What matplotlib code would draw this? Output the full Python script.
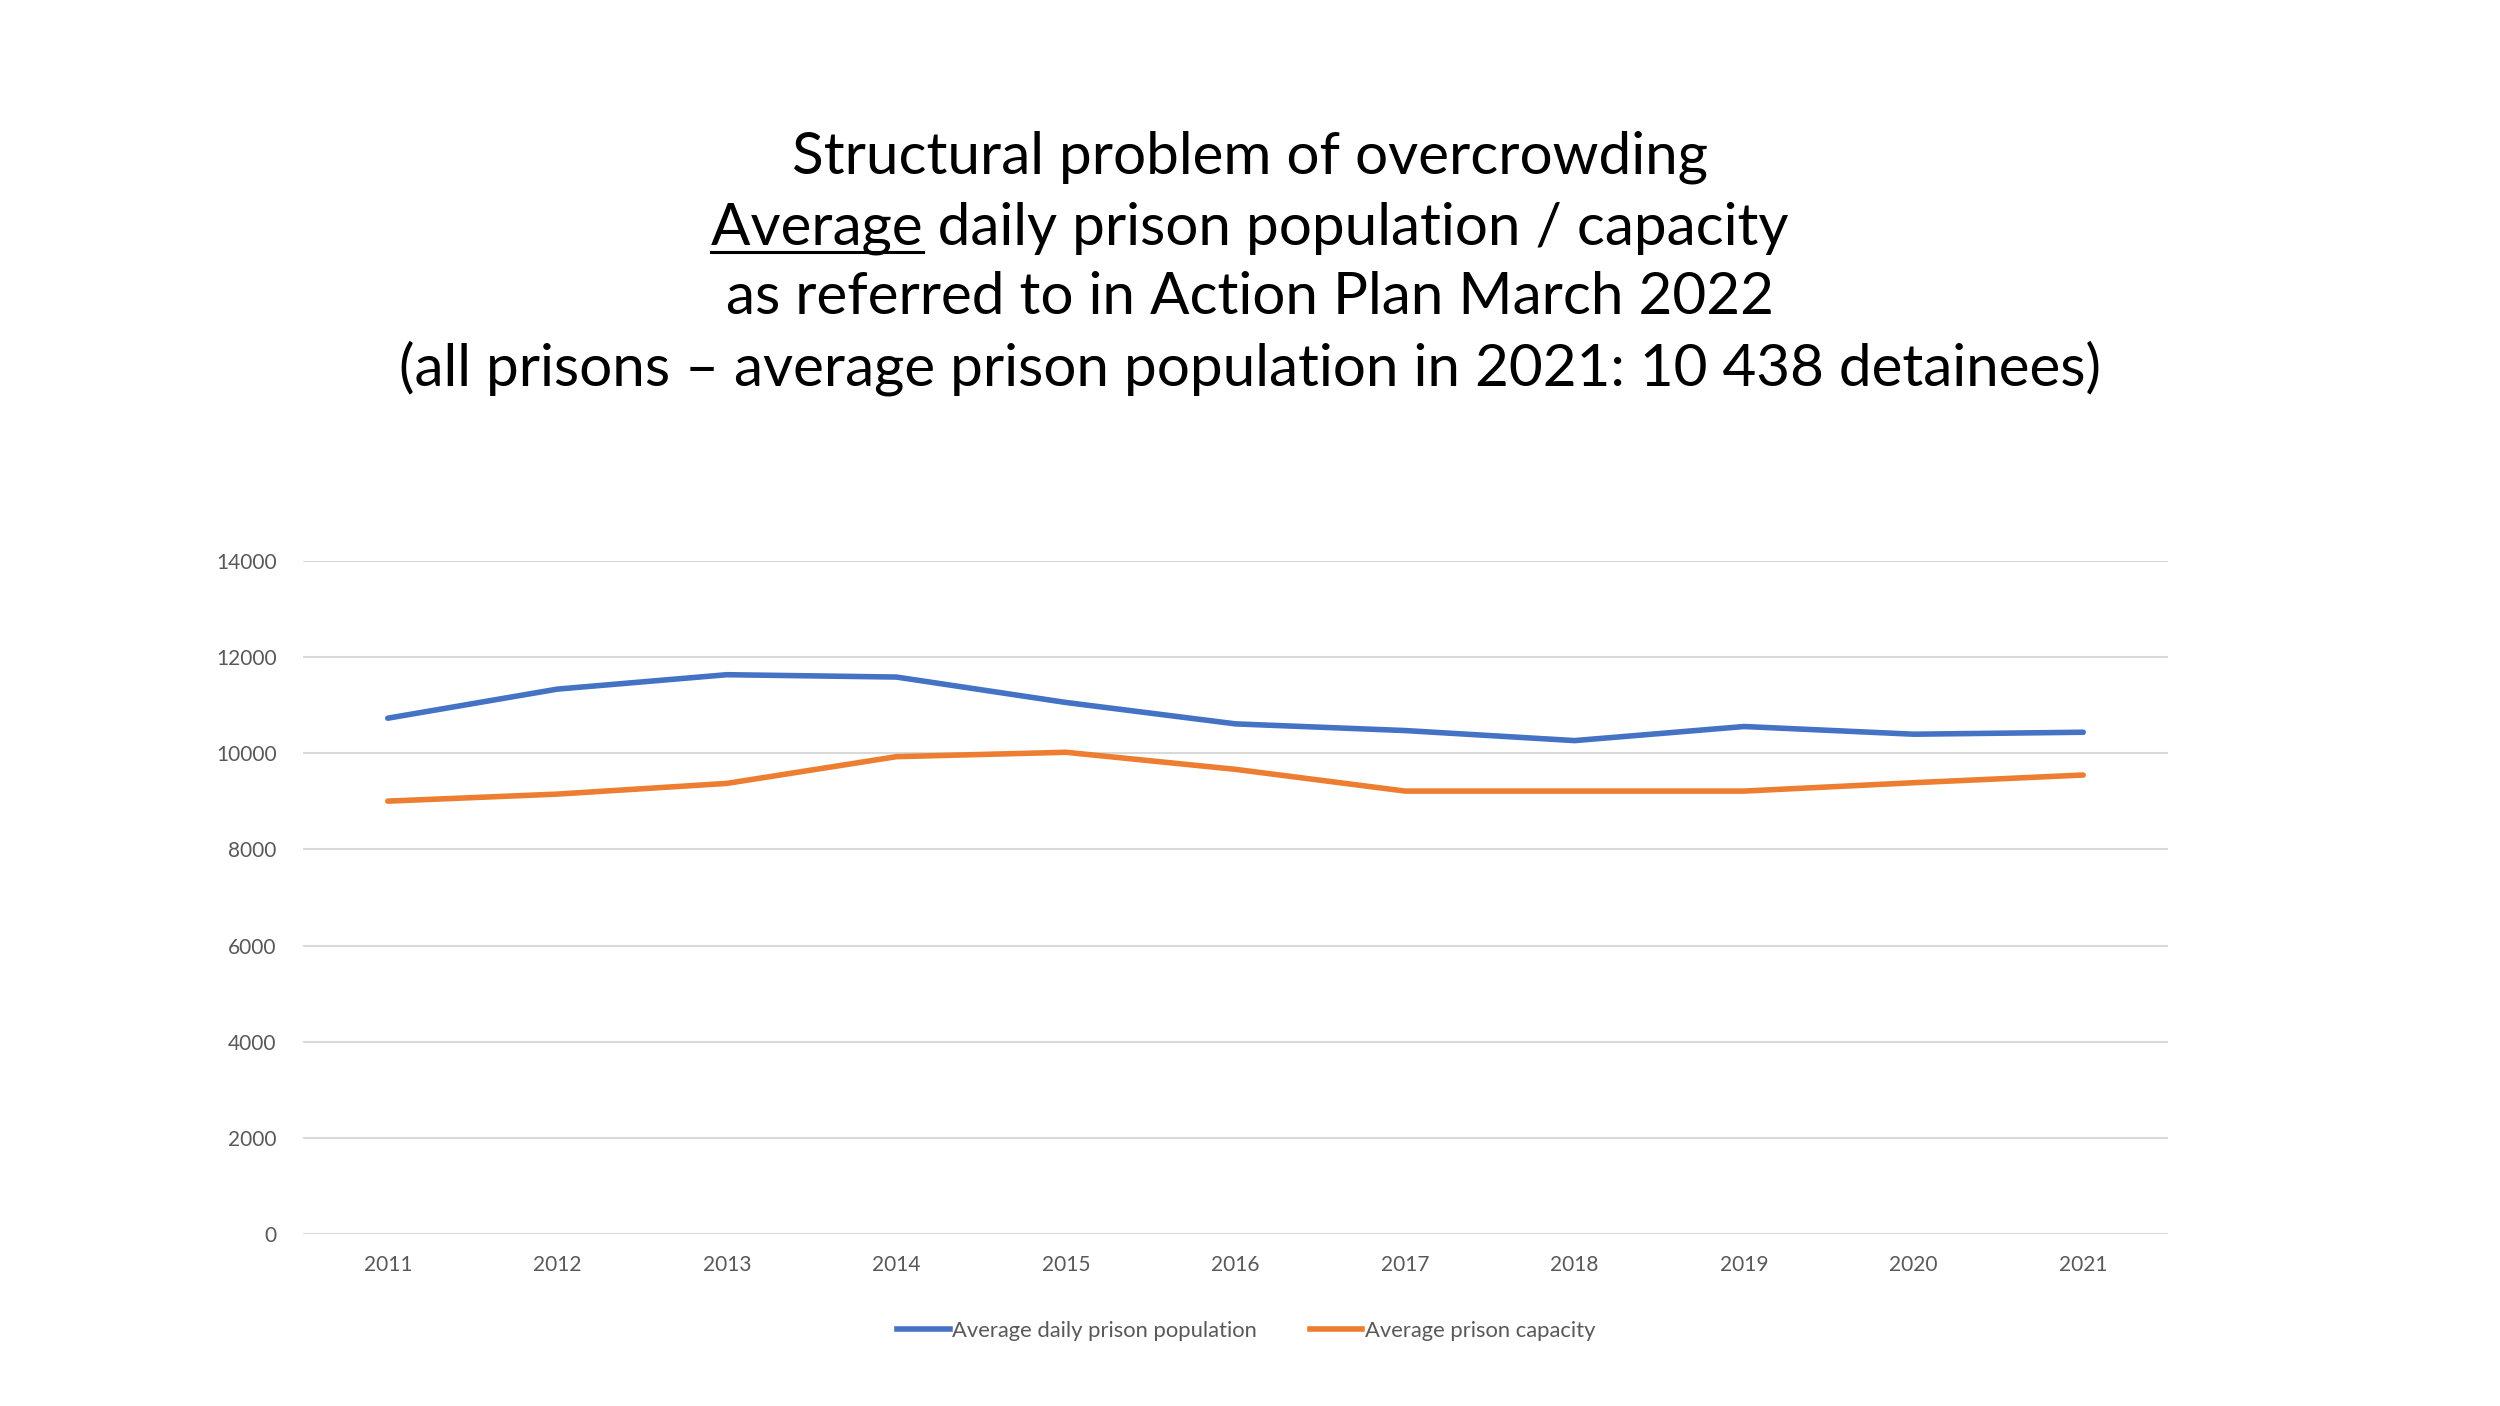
import matplotlib
matplotlib.use("Agg")
import matplotlib.pyplot as plt
from matplotlib.lines import Line2D

years = ["2011", "2012", "2013", "2014", "2015", "2016", "2017", "2018", "2019", "2020", "2021"]
population = [10730, 11335, 11635, 11586, 11057, 10612, 10473, 10264, 10557, 10397, 10438]
capacity = [9005, 9151, 9374, 9930, 10021, 9666, 9214, 9214, 9214, 9388, 9548]
yticks = [0, 2000, 4000, 6000, 8000, 10000, 12000, 14000]

title_lines = [
    "Structural problem of overcrowding",
    "Average daily prison population / capacity",
    "as referred to in Action Plan March 2022",
    "(all prisons \u2013 average prison population in 2021: 10 438 detainees)",
]

FONT = ["Lato", "DejaVu Sans"]
plt.rcParams["font.family"] = FONT

fig = plt.figure(figsize=(25, 14.06), dpi=100)
ax = fig.add_axes([0.1212, 0.1223, 0.746, 0.4787])

x = list(range(len(years)))
ax.plot(x, population, color="#4472C4", lw=4.0, solid_capstyle="round", solid_joinstyle="round",
        label="Average daily prison population")
ax.plot(x, capacity, color="#ED7D31", lw=4.0, solid_capstyle="round", solid_joinstyle="round",
        label="Average prison capacity")

ax.set_xlim(-0.5, len(years) - 0.5)
ax.set_ylim(0, 14000)
ax.set_yticks(yticks)
ax.set_yticklabels([str(v) for v in yticks])
ax.set_xticks(x)
ax.set_xticklabels(years)
ax.grid(axis="y", color="#D9D9D9", lw=1.5)
ax.set_axisbelow(True)
for s in ax.spines.values():
    s.set_visible(False)
ax.tick_params(axis="both", length=0, labelsize=15, colors="#595959")
ax.tick_params(axis="y", pad=19)
ax.tick_params(axis="x", pad=15)

leg = fig.legend(handles=[Line2D([], [], color="#4472C4", lw=4.0),
                          Line2D([], [], color="#ED7D31", lw=4.0)],
                 labels=["Average daily prison population", "Average prison capacity"],
                 loc="center", bbox_to_anchor=(0.4985, 1 - 1331 / 1406), ncol=2, frameon=False,
                 fontsize=15.8, handlelength=2.4, handletextpad=0.1, columnspacing=2.4)
for t in leg.get_texts():
    t.set_color("#595959")

ys = [157, 228, 298, 368]
texts = []
for line, yp in zip(title_lines, ys):
    t = fig.text(0.5, 1 - yp / 1406, line, ha="center", va="center", fontsize=42, color="black")
    texts.append(t)

# underline "Average" in second line
fig.canvas.draw()
r = fig.canvas.get_renderer()
t2 = texts[1]
bb = t2.get_window_extent(r)
probe = fig.text(0, 0, "Average", fontsize=42)
pbb = probe.get_window_extent(r)
probe.remove()
x0 = bb.x0
x1 = bb.x0 + pbb.width
yline = 1406 - 252
fig.add_artist(Line2D([x0 / 2500, x1 / 2500], [yline / 1406, yline / 1406],
                      color="black", lw=2.2, transform=fig.transFigure))

fig.savefig("out.png", dpi=100)
